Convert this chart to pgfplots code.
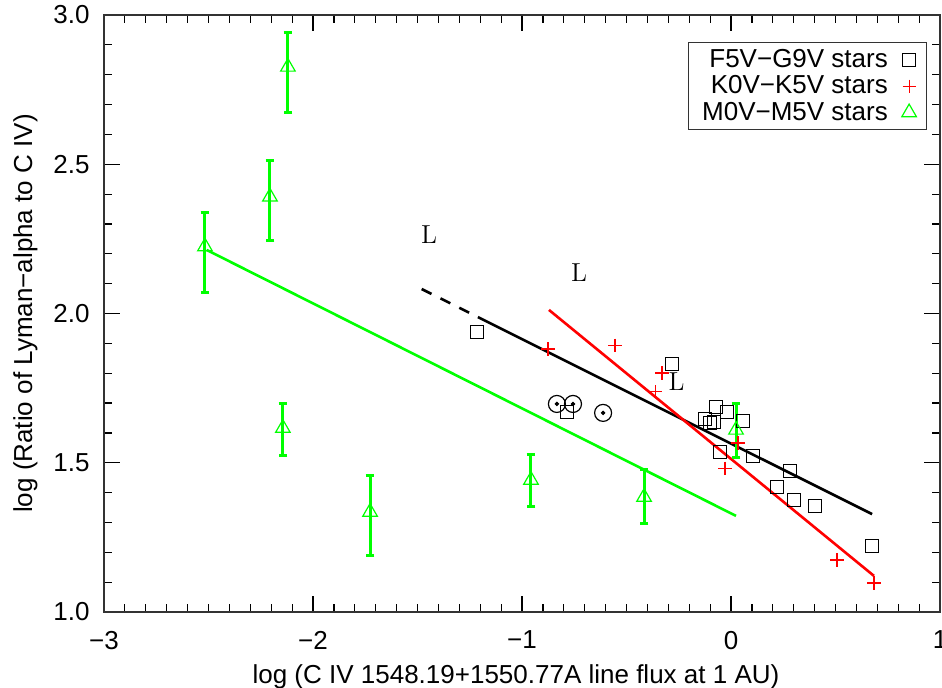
\documentclass[border=0pt]{standalone}
\usepackage{fontspec}
\usepackage{pgfplots}
\pgfplotsset{compat=1.18}
\newfontfamily\hf{Liberation Sans}
\definecolor{idlgreen}{RGB}{0,255,0}
\definecolor{idlred}{RGB}{255,0,0}

\pgfplotstableread{
x y
-1.215 1.938
-0.785 1.670
-0.284 1.830
-0.072 1.687
-0.020 1.670
-0.124 1.647
-0.081 1.637
-0.100 1.633
0.057 1.640
-0.053 1.536
0.105 1.523
0.282 1.472
0.220 1.419
0.301 1.375
0.402 1.355
0.675 1.221
}\fstars

\pgfplotstableread{
x y
-0.876 1.881
-0.555 1.894
-0.330 1.801
-0.360 1.738
0.033 1.566
-0.029 1.482
0.507 1.174
0.684 1.097
}\kstars

\pgfplotstableread{
x y ep em
-2.517 2.224 0.115 0.153
-2.206 2.391 0.122 0.146
-2.120 2.826 0.115 0.151
-2.144 1.616 0.084 0.093
-1.727 1.335 0.121 0.147
-0.957 1.442 0.087 0.090
-0.416 1.385 0.091 0.087
0.024 1.610 0.087 0.091
}\mstars

\begin{document}
\begin{tikzpicture}
\begin{axis}[
  at={(0,0)}, anchor=south west,
  width=418pt, height=298.5pt, scale only axis,
  xmin=-3, xmax=1, ymin=1, ymax=3,
  xtick={-3,-2,-1,0,1},
  xticklabels={−3,−2,−1,0,1},
  ytick={1,1.5,2,2.5,3},
  yticklabels={1.0,1.5,2.0,2.5,3.0},
  minor x tick num=9,
  minor y tick num=4,
  tick align=inside,
  major tick length=8pt,
  minor tick length=4pt,
  axis line style={line width=0.6pt, black!80},
  every tick/.style={line width=0.6pt, black},
  tick label style={font=\hf\fontsize{13}{15}\selectfont},
  xticklabel style={yshift=-6pt},
  yticklabel style={xshift=-3.7pt},
  xlabel={log (C IV 1548.19+1550.77A line flux at 1 AU)},
  ylabel={log (Ratio of Lyman−alpha to C IV)},
  label style={font=\hf\fontsize{13}{15}\selectfont},
  xlabel style={at={(axis description cs:0.4928,-0.1197)}, anchor=base},
  ylabel style={at={(axis description cs:-0.0861,0.5)}, anchor=base},
  legend cell align=right,
  legend plot pos=right,
  legend style={at={(1,1)}, anchor=north east, xshift=-6.5pt, yshift=-13.5pt,
    font=\hf\fontsize{13}{15}\selectfont, draw=black!80, line width=0.6pt,
    inner xsep=5pt, inner ysep=2pt, row sep=0pt,
    nodes={inner ysep=1.3pt, inner xsep=2pt}},
]
% fit lines
\addplot[forget plot, black, line width=1.3pt, dash pattern=on 5.5pt off 5pt] coordinates {(-1.480,2.082) (-1.211,1.988)};
\addplot[forget plot, black, line width=1.3pt] coordinates {(-1.211,1.988) (0.675,1.328)};
\addplot[forget plot, idlred, line width=1.3pt] coordinates {(-0.871,2.012) (0.684,1.121)};
\addplot[forget plot, idlgreen, line width=1.3pt] coordinates {(-2.509,2.213) (0.024,1.322)};
% F stars
\addplot[forget plot, only marks, black, mark=square, mark size=3.25pt, mark options={line width=0.6pt}] table[x=x,y=y] {\fstars};
% K stars
\addplot[forget plot, only marks, idlred, mark=+, mark size=3.3pt, mark options={line width=0.6pt}] table[x=x,y=y] {\kstars};
% M stars
\addplot[forget plot, only marks, idlgreen, mark=triangle, mark size=4.2pt, mark options={line width=0.6pt},
  error bars/.cd, y dir=both, y explicit,
  error bar style={line width=1.5pt, idlgreen},
  error mark options={rotate=90, mark size=2.2pt, line width=1.5pt, idlgreen}]
  table[x=x, y=y, y error plus=ep, y error minus=em] {\mstars};
% Sun symbols
\addplot[forget plot, only marks, black, mark=o, mark size=4.25pt, mark options={line width=0.6pt}] coordinates {(-0.833,1.697) (-0.756,1.697) (-0.612,1.667)};
\addplot[forget plot, only marks, black, mark=*, mark size=0.9pt] coordinates {(-0.833,1.697) (-0.756,1.697) (-0.612,1.667)};
% L labels
\node[font=\fontsize{13}{13}\selectfont] at (axis cs:-1.445,2.263) {L};
\node[font=\fontsize{13}{13}\selectfont] at (axis cs:-0.727,2.136) {L};
\node[font=\fontsize{13}{13}\selectfont] at (axis cs:-0.260,1.772) {L};
% legend
\addlegendimage{only marks, black, mark=square, mark size=3.25pt, mark options={line width=0.6pt}}
\addlegendentry{F5V−G9V stars\rule{5pt}{0pt}}
\addlegendimage{only marks, idlred, mark=+, mark size=3.3pt, mark options={line width=0.6pt}}
\addlegendentry{K0V−K5V stars\rule{5pt}{0pt}}
\addlegendimage{only marks, idlgreen, mark=triangle, mark size=4.2pt, mark options={line width=0.6pt}}
\addlegendentry{M0V−M5V stars\rule{5pt}{0pt}}
\end{axis}
\pgfresetboundingbox
\useasboundingbox (-52pt,-37.5pt) rectangle (419pt,306pt);
\end{tikzpicture}
\end{document}
